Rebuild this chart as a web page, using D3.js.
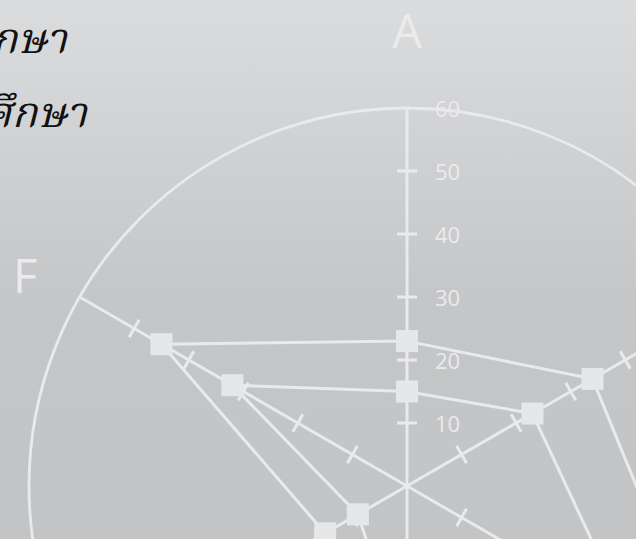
<html>
<head>
<meta charset="utf-8" />
<title>Radar</title>
<script src="https://cdn.jsdelivr.net/npm/d3@7"></script>
<style>
  body { margin: 0; overflow: hidden; }
  svg { display: block; }
</style>
</head>
<body>
<script>
// data
var axes = ["A", "B", "C", "D", "E", "F"];
var seriesNames = ["ก่อนการศึกษา", "หลังจากการศึกษา"];
var before = [23, 34, 55, 38, 15, 45];
var after = [15, 23, 40, 28, 9, 32];
var tickValues = [10, 20, 30, 40, 50, 60];

var width = 636, height = 539;
var cx = 407, cy = 486;
var lineCol = "#e9eaeb";

var svg = d3.select("body").append("svg")
  .attr("width", width)
  .attr("height", height);

var defs = svg.append("defs");
var grad = defs.append("linearGradient").attr("id", "bg")
  .attr("x1", 0).attr("y1", 0).attr("x2", 0).attr("y2", 1);
grad.append("stop").attr("offset", "0%").attr("stop-color", "#dbdcdd");
grad.append("stop").attr("offset", "55%").attr("stop-color", "#c5c6c8");
grad.append("stop").attr("offset", "100%").attr("stop-color", "#c3c4c6");

svg.append("rect").attr("width", width).attr("height", height).attr("fill", "url(#bg)");

var r = d3.scaleLinear().domain([0, 60]).range([0, 378]);
var angle = d3.scalePoint().domain(axes).range([0, 2 * Math.PI * 5 / 6]);

function pt(axis, v) {
  var a = angle(axis);
  return [cx + Math.sin(a) * r(v), cy - Math.cos(a) * r(v)];
}

var g = svg.append("g");

// outer ring
g.append("circle")
  .attr("cx", cx).attr("cy", cy).attr("r", r(60))
  .attr("fill", "none").attr("stroke", lineCol).attr("stroke-width", 2.8);

// spokes with cross ticks
axes.forEach(function(ax) {
  var a = angle(ax);
  var end = pt(ax, 60);
  g.append("line")
    .attr("x1", cx).attr("y1", cy).attr("x2", end[0]).attr("y2", end[1])
    .attr("stroke", lineCol).attr("stroke-width", 3);
  var px = Math.cos(a), py = Math.sin(a);
  tickValues.slice(0, 5).forEach(function(t) {
    var p = pt(ax, t);
    g.append("line")
      .attr("x1", p[0] - px * 10).attr("y1", p[1] - py * 10)
      .attr("x2", p[0] + px * 10).attr("y2", p[1] + py * 10)
      .attr("stroke", lineCol).attr("stroke-width", 3);
  });
  var lr = 441;
  g.append("text")
    .attr("x", cx + Math.sin(a) * lr)
    .attr("y", cy - Math.cos(a) * lr + (Math.cos(a) > 0.9 ? -15 : 9))
    .attr("text-anchor", "middle")
    .attr("dominant-baseline", "central")
    .attr("font-family", "Open Sans, sans-serif")
    .attr("font-size", 47)
    .attr("fill", "#ebebec")
    .text(ax);
});

// tick labels on the A axis
g.selectAll(".tl").data(tickValues).enter().append("text")
  .attr("class", "tl")
  .attr("x", cx + 28)
  .attr("y", d => cy - r(d))
  .attr("dominant-baseline", "central")
  .attr("font-family", "Open Sans, sans-serif")
  .attr("font-size", 22)
  .attr("fill", "#ebebec")
  .text(d => d);

// series
var radial = d3.lineRadial()
  .angle((d, i) => angle(axes[i]))
  .radius(d => r(d))
  .curve(d3.curveLinearClosed);

[before, after].forEach(function(vals) {
  g.append("path")
    .attr("transform", "translate(" + cx + "," + cy + ")")
    .attr("d", radial(vals))
    .attr("fill", "none")
    .attr("stroke", lineCol)
    .attr("stroke-width", 3);
  vals.forEach(function(v, i) {
    var p = pt(axes[i], v);
    g.append("rect")
      .attr("x", p[0] - 11).attr("y", p[1] - 11)
      .attr("width", 22).attr("height", 22)
      .attr("fill", "#e6e7e8");
  });
});

// legend text (cut at the left edge)
svg.selectAll(".lg").data(seriesNames).enter().append("text")
  .attr("class", "lg")
  .attr("x", (d, i) => i ? 87 : 67)
  .attr("y", (d, i) => i ? 127 : 53)
  .attr("text-anchor", "end")
  .attr("font-family", "Noto Serif Thai, Loma, Garuda, serif")
  .attr("font-style", "italic")
  .attr("font-size", 42)
  .attr("fill", "#111")
  .text(d => d);
</script>
</body>
</html>
